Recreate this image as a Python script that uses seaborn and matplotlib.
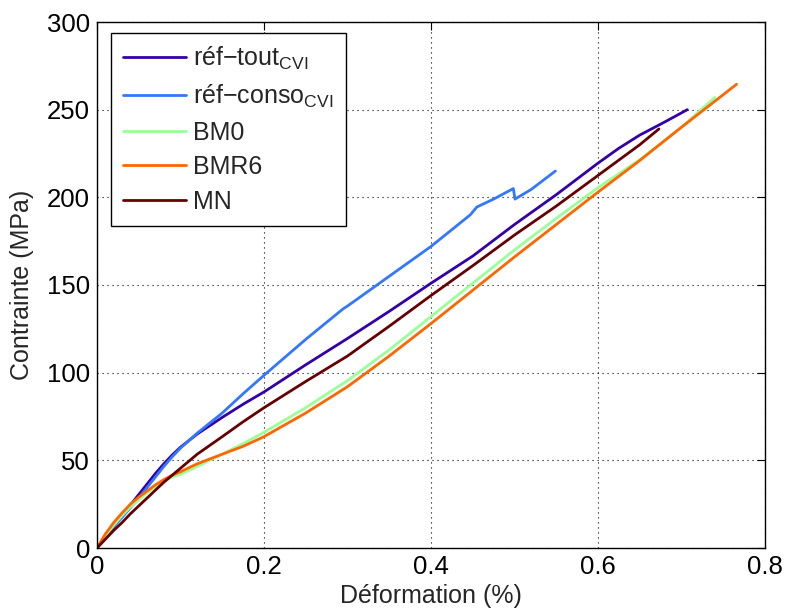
import matplotlib
matplotlib.use('Agg')
import matplotlib.pyplot as plt
import seaborn as sns
import pandas as pd

# data (strain %, stress MPa)
tout_x = [0, 0.01, 0.02, 0.03, 0.04, 0.05, 0.06, 0.07, 0.08, 0.09, 0.10, 0.12, 0.15, 0.175, 0.20,
          0.25, 0.30, 0.35, 0.40, 0.45, 0.50, 0.55, 0.60, 0.625, 0.65, 0.68, 0.707]
tout_y = [0, 6.5, 12.5, 18.5, 24.5, 30.5, 36.5, 42.5, 48, 53, 57.5, 65, 74.5, 82, 89,
          104.5, 119.5, 135, 151, 166.5, 184.5, 201.5, 219.5, 228, 235.5, 243, 250]

conso_x = [0, 0.01, 0.02, 0.03, 0.04, 0.05, 0.06, 0.07, 0.08, 0.09, 0.10, 0.12, 0.15, 0.175, 0.20,
           0.25, 0.295, 0.30, 0.35, 0.40, 0.447, 0.455, 0.475, 0.4986, 0.5006, 0.52, 0.549]
conso_y = [0, 6, 12, 17.5, 23, 28.5, 34.5, 40.5, 46.5, 52, 57, 65.5, 77, 88, 98.5,
           119, 136.5, 138, 155, 172, 190, 194.5, 199, 205, 199, 204.5, 215]

bm0_x = [0, 0.01, 0.02, 0.03, 0.04, 0.05, 0.06, 0.07, 0.08, 0.09, 0.10, 0.12, 0.15, 0.175, 0.20,
         0.25, 0.30, 0.35, 0.40, 0.45, 0.50, 0.55, 0.60, 0.65, 0.70, 0.74]
bm0_y = [0, 7, 13, 18.5, 23.5, 27.5, 31.5, 35, 38, 40.5, 42, 46.5, 53.5, 59.5, 66,
         80, 95.5, 113, 132, 151, 170, 188, 205.5, 221.5, 240, 257]

bmr6_x = [0, 0.01, 0.02, 0.03, 0.04, 0.05, 0.06, 0.07, 0.08, 0.09, 0.10, 0.12, 0.15, 0.175, 0.20,
          0.25, 0.30, 0.35, 0.40, 0.45, 0.50, 0.55, 0.60, 0.65, 0.70, 0.766]
bmr6_y = [0, 8, 14.5, 20, 25, 29, 32.5, 36, 39, 41.5, 43.5, 48, 53.5, 58, 63.5,
          77, 92, 109.5, 128, 147, 166, 184.5, 203, 221, 240, 264.5]

mn_x = [0, 0.01, 0.02, 0.03, 0.04, 0.05, 0.06, 0.07, 0.08, 0.09, 0.10, 0.12, 0.15, 0.175, 0.20,
        0.25, 0.30, 0.35, 0.40, 0.45, 0.50, 0.55, 0.60, 0.65, 0.673]
mn_y = [0, 5, 10, 14.5, 19.5, 24, 28.5, 33, 37.5, 41.5, 45.5, 53.5, 63.5, 72, 80,
        95, 109.5, 126.5, 144, 161, 178.5, 195, 212.5, 230, 239]

labels = ['réf\u2212tout$_{\\mathrm{CVI}}$', 'réf\u2212conso$_{\\mathrm{CVI}}$', 'BM0', 'BMR6', 'MN']
colors = ['#3300aa', '#3377ff', '#99ff99', '#ff6600', '#660000']

series = [(tout_x, tout_y), (conso_x, conso_y), (bm0_x, bm0_y), (bmr6_x, bmr6_y), (mn_x, mn_y)]
frames = []
for lab, (xs, ys) in zip(labels, series):
    frames.append(pd.DataFrame({'x': xs, 'y': ys, 'serie': lab}))
df = pd.concat(frames, ignore_index=True)

sns.set_style('white')
plt.rcParams['font.family'] = ['Liberation Sans', 'DejaVu Sans']
plt.rcParams['mathtext.fontset'] = 'custom'
plt.rcParams['mathtext.rm'] = 'Liberation Sans'
plt.rcParams['mathtext.it'] = 'Liberation Sans:italic'
plt.rcParams['font.size'] = 18

fig = plt.figure(figsize=(7.85, 6.13), dpi=100)
ax = fig.add_axes([97 / 785, 1 - 548 / 613, 668 / 785, 526 / 613])

sns.lineplot(data=df, x='x', y='y', hue='serie', hue_order=labels,
             palette=dict(zip(labels, colors)), sort=False, estimator=None,
             linewidth=2, ax=ax)

ax.set_xlim(0, 0.8)
ax.set_ylim(0, 300)
ax.set_xticks([0, 0.2, 0.4, 0.6, 0.8])
ax.set_xticklabels(['0', '0.2', '0.4', '0.6', '0.8'])
ax.set_yticks([0, 50, 100, 150, 200, 250, 300])
ax.set_xlabel('Déformation (%)', fontsize=18, labelpad=4)
ax.set_ylabel('Contrainte (MPa)', fontsize=18, labelpad=9)
ax.tick_params(direction='in', length=6, width=0.8, labelsize=18.5, pad=5,
               top=True, right=True, colors='black')
ax.grid(True, color='black', linestyle=(0, (1, 3.5)), linewidth=0.8)
for s in ax.spines.values():
    s.set_color('black')
    s.set_linewidth(1.0)

leg = ax.legend(loc='upper left', bbox_to_anchor=(13.7 / 668, 1 - 10.7 / 526),
                borderaxespad=0, fancybox=False, frameon=True, fontsize=18,
                handlelength=2.5, handletextpad=0.3, labelspacing=0.42,
                borderpad=0.5)
leg.get_frame().set_edgecolor('black')
leg.get_frame().set_linewidth(1.0)
leg.get_frame().set_alpha(1)

fig.savefig('out.png', dpi=100)
